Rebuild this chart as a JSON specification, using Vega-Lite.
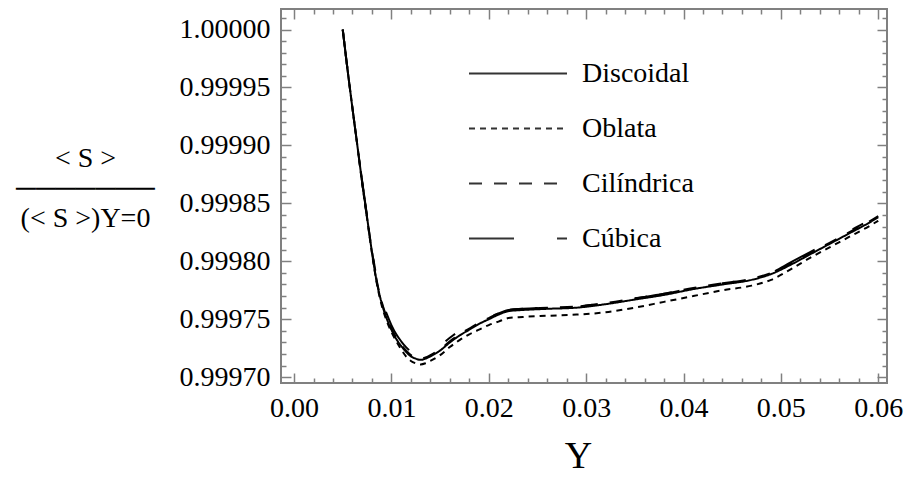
{
  "$schema": "https://vega.github.io/schema/vega-lite/v6.json",
  "width": 606,
  "height": 374,
  "autosize": "none",
  "padding": {"left": 281, "top": 9, "right": 17, "bottom": 94},
  "background": "white",
  "datasets": {
    "curves": [
      {"s":"Discoidal","x":0.0050,"y":1.000000},{"s":"Discoidal","x":0.0055,"y":0.999965},{"s":"Discoidal","x":0.0060,"y":0.999932},{"s":"Discoidal","x":0.0065,"y":0.999900},{"s":"Discoidal","x":0.0070,"y":0.999868},{"s":"Discoidal","x":0.0075,"y":0.999838},{"s":"Discoidal","x":0.0080,"y":0.999808},{"s":"Discoidal","x":0.0085,"y":0.999782},{"s":"Discoidal","x":0.0090,"y":0.999764},{"s":"Discoidal","x":0.0095,"y":0.999751},{"s":"Discoidal","x":0.0100,"y":0.999741},{"s":"Discoidal","x":0.0105,"y":0.999733},{"s":"Discoidal","x":0.0110,"y":0.999727},{"s":"Discoidal","x":0.0115,"y":0.999722},{"s":"Discoidal","x":0.0120,"y":0.999718},{"s":"Discoidal","x":0.0125,"y":0.999716},{"s":"Discoidal","x":0.0130,"y":0.999715},{"s":"Discoidal","x":0.0135,"y":0.999716},{"s":"Discoidal","x":0.0140,"y":0.999718},{"s":"Discoidal","x":0.0150,"y":0.999723},{"s":"Discoidal","x":0.0160,"y":0.999730},{"s":"Discoidal","x":0.0170,"y":0.999736},{"s":"Discoidal","x":0.0180,"y":0.999741},{"s":"Discoidal","x":0.0190,"y":0.999746},{"s":"Discoidal","x":0.0200,"y":0.999750},{"s":"Discoidal","x":0.0210,"y":0.999754},{"s":"Discoidal","x":0.0220,"y":0.999757},{"s":"Discoidal","x":0.0235,"y":0.999758},{"s":"Discoidal","x":0.0260,"y":0.999759},{"s":"Discoidal","x":0.0290,"y":0.999760},{"s":"Discoidal","x":0.0320,"y":0.999763},{"s":"Discoidal","x":0.0350,"y":0.999767},{"s":"Discoidal","x":0.0380,"y":0.999771},{"s":"Discoidal","x":0.0410,"y":0.999776},{"s":"Discoidal","x":0.0440,"y":0.999780},{"s":"Discoidal","x":0.0470,"y":0.999784},{"s":"Discoidal","x":0.0490,"y":0.999789},{"s":"Discoidal","x":0.0510,"y":0.999797},{"s":"Discoidal","x":0.0530,"y":0.999806},{"s":"Discoidal","x":0.0550,"y":0.999815},{"s":"Discoidal","x":0.0570,"y":0.999824},{"s":"Discoidal","x":0.0590,"y":0.999833},{"s":"Discoidal","x":0.0600,"y":0.999838},

      {"s":"Oblata","x":0.0050,"y":1.000000},{"s":"Oblata","x":0.0055,"y":0.999965},{"s":"Oblata","x":0.0060,"y":0.999932},{"s":"Oblata","x":0.0065,"y":0.999900},{"s":"Oblata","x":0.0070,"y":0.999867},{"s":"Oblata","x":0.0075,"y":0.999837},{"s":"Oblata","x":0.0080,"y":0.999807},{"s":"Oblata","x":0.0085,"y":0.999781},{"s":"Oblata","x":0.0090,"y":0.999762},{"s":"Oblata","x":0.0095,"y":0.999749},{"s":"Oblata","x":0.0100,"y":0.999739},{"s":"Oblata","x":0.0105,"y":0.999731},{"s":"Oblata","x":0.0110,"y":0.999724},{"s":"Oblata","x":0.0115,"y":0.999718},{"s":"Oblata","x":0.0120,"y":0.999714},{"s":"Oblata","x":0.0125,"y":0.999712},{"s":"Oblata","x":0.0130,"y":0.999711},{"s":"Oblata","x":0.0135,"y":0.999712},{"s":"Oblata","x":0.0140,"y":0.999714},{"s":"Oblata","x":0.0150,"y":0.999719},{"s":"Oblata","x":0.0160,"y":0.999726},{"s":"Oblata","x":0.0170,"y":0.999732},{"s":"Oblata","x":0.0180,"y":0.999737},{"s":"Oblata","x":0.0190,"y":0.999741},{"s":"Oblata","x":0.0200,"y":0.999745},{"s":"Oblata","x":0.0210,"y":0.999748},{"s":"Oblata","x":0.0220,"y":0.999751},{"s":"Oblata","x":0.0235,"y":0.999752},{"s":"Oblata","x":0.0260,"y":0.999753},{"s":"Oblata","x":0.0290,"y":0.999754},{"s":"Oblata","x":0.0320,"y":0.999756},{"s":"Oblata","x":0.0350,"y":0.999760},{"s":"Oblata","x":0.0380,"y":0.999765},{"s":"Oblata","x":0.0410,"y":0.999770},{"s":"Oblata","x":0.0440,"y":0.999775},{"s":"Oblata","x":0.0470,"y":0.999779},{"s":"Oblata","x":0.0490,"y":0.999784},{"s":"Oblata","x":0.0510,"y":0.999793},{"s":"Oblata","x":0.0530,"y":0.999803},{"s":"Oblata","x":0.0550,"y":0.999812},{"s":"Oblata","x":0.0570,"y":0.999821},{"s":"Oblata","x":0.0590,"y":0.999830},{"s":"Oblata","x":0.0600,"y":0.999835},

      {"s":"Cilíndrica","x":0.0050,"y":1.000000},{"s":"Cilíndrica","x":0.0055,"y":0.999965},{"s":"Cilíndrica","x":0.0060,"y":0.999932},{"s":"Cilíndrica","x":0.0065,"y":0.999900},{"s":"Cilíndrica","x":0.0070,"y":0.999868},{"s":"Cilíndrica","x":0.0075,"y":0.999838},{"s":"Cilíndrica","x":0.0080,"y":0.999809},{"s":"Cilíndrica","x":0.0085,"y":0.999783},{"s":"Cilíndrica","x":0.0090,"y":0.999765},{"s":"Cilíndrica","x":0.0095,"y":0.999752},{"s":"Cilíndrica","x":0.0100,"y":0.999742},{"s":"Cilíndrica","x":0.0105,"y":0.999734},{"s":"Cilíndrica","x":0.0110,"y":0.999728},{"s":"Cilíndrica","x":0.0115,"y":0.999723},{"s":"Cilíndrica","x":0.0120,"y":0.999719},{"s":"Cilíndrica","x":0.0125,"y":0.999717},{"s":"Cilíndrica","x":0.0130,"y":0.999716},{"s":"Cilíndrica","x":0.0135,"y":0.999717},{"s":"Cilíndrica","x":0.0140,"y":0.999719},{"s":"Cilíndrica","x":0.0150,"y":0.999724},{"s":"Cilíndrica","x":0.0160,"y":0.999731},{"s":"Cilíndrica","x":0.0170,"y":0.999737},{"s":"Cilíndrica","x":0.0180,"y":0.999742},{"s":"Cilíndrica","x":0.0190,"y":0.999747},{"s":"Cilíndrica","x":0.0200,"y":0.999751},{"s":"Cilíndrica","x":0.0210,"y":0.999755},{"s":"Cilíndrica","x":0.0220,"y":0.999758},{"s":"Cilíndrica","x":0.0235,"y":0.999759},{"s":"Cilíndrica","x":0.0260,"y":0.999760},{"s":"Cilíndrica","x":0.0290,"y":0.999761},{"s":"Cilíndrica","x":0.0320,"y":0.999764},{"s":"Cilíndrica","x":0.0350,"y":0.999768},{"s":"Cilíndrica","x":0.0380,"y":0.999772},{"s":"Cilíndrica","x":0.0410,"y":0.999777},{"s":"Cilíndrica","x":0.0440,"y":0.999781},{"s":"Cilíndrica","x":0.0470,"y":0.999785},{"s":"Cilíndrica","x":0.0490,"y":0.999790},{"s":"Cilíndrica","x":0.0510,"y":0.999798},{"s":"Cilíndrica","x":0.0530,"y":0.999807},{"s":"Cilíndrica","x":0.0550,"y":0.999816},{"s":"Cilíndrica","x":0.0570,"y":0.999825},{"s":"Cilíndrica","x":0.0590,"y":0.999834},{"s":"Cilíndrica","x":0.0600,"y":0.999839},

      {"s":"Cúbica","x":0.0050,"y":1.000000},{"s":"Cúbica","x":0.0055,"y":0.999965},{"s":"Cúbica","x":0.0060,"y":0.999932},{"s":"Cúbica","x":0.0065,"y":0.999900},{"s":"Cúbica","x":0.0070,"y":0.999869},{"s":"Cúbica","x":0.0075,"y":0.999839},{"s":"Cúbica","x":0.0080,"y":0.999810},{"s":"Cúbica","x":0.0085,"y":0.999785},{"s":"Cúbica","x":0.0090,"y":0.999767},{"s":"Cúbica","x":0.0095,"y":0.999755},{"s":"Cúbica","x":0.0100,"y":0.999745},{"s":"Cúbica","x":0.0105,"y":0.999737},{"s":"Cúbica","x":0.0110,"y":0.999731},{"s":"Cúbica","x":0.0115,"y":0.999726},{"s":"Cúbica","x":0.0120,"y":0.999722},{"s":"Cúbica","x":0.0125,"y":0.999719},{"s":"Cúbica","x":0.0130,"y":0.999718},{"s":"Cúbica","x":0.0135,"y":0.999719},{"s":"Cúbica","x":0.0140,"y":0.999721},{"s":"Cúbica","x":0.0150,"y":0.999727},{"s":"Cúbica","x":0.0160,"y":0.999734},{"s":"Cúbica","x":0.0170,"y":0.999740},{"s":"Cúbica","x":0.0180,"y":0.999744},{"s":"Cúbica","x":0.0190,"y":0.999748},{"s":"Cúbica","x":0.0200,"y":0.999752},{"s":"Cúbica","x":0.0210,"y":0.999755},{"s":"Cúbica","x":0.0220,"y":0.999758},{"s":"Cúbica","x":0.0235,"y":0.999759},{"s":"Cúbica","x":0.0260,"y":0.999760},{"s":"Cúbica","x":0.0290,"y":0.999761},{"s":"Cúbica","x":0.0320,"y":0.999764},{"s":"Cúbica","x":0.0350,"y":0.999768},{"s":"Cúbica","x":0.0380,"y":0.999772},{"s":"Cúbica","x":0.0410,"y":0.999777},{"s":"Cúbica","x":0.0440,"y":0.999781},{"s":"Cúbica","x":0.0470,"y":0.999785},{"s":"Cúbica","x":0.0490,"y":0.999790},{"s":"Cúbica","x":0.0510,"y":0.999799},{"s":"Cúbica","x":0.0530,"y":0.999808},{"s":"Cúbica","x":0.0550,"y":0.999817},{"s":"Cúbica","x":0.0570,"y":0.999826},{"s":"Cúbica","x":0.0590,"y":0.999835},{"s":"Cúbica","x":0.0600,"y":0.999840}
    ]
  },
  "data": {"name": "curves"},
  "resolve": {"axis": {"x": "independent", "y": "independent"}},
  "layer": [
    {
      "mark": {"type": "line", "strokeWidth": 2, "color": "#000", "interpolate": "monotone", "clip": true},
      "encoding": {
        "x": {
          "field": "x", "type": "quantitative",
          "scale": {"domain": [-0.00134, 0.0609], "nice": false, "zero": false},
          "axis": {
            "orient": "bottom",
            "values": [0,0.002,0.004,0.006,0.008,0.01,0.012,0.014,0.016,0.018,0.02,0.022,0.024,0.026,0.028,0.03,0.032,0.034,0.036,0.038,0.04,0.042,0.044,0.046,0.048,0.05,0.052,0.054,0.056,0.058,0.06],
            "labelExpr": "round(datum.value*1000) % 10 === 0 ? format(datum.value, '.2f') : ''",
            "labelOverlap": false,
            "labelFlush": false,
            "labelFont": "Liberation Serif",
            "labelFontSize": 28,
            "labelColor": "#000",
            "tickSize": {"condition": {"test": "round(datum.value*1000) % 10 === 0", "value": -10}, "value": -5},
            "labelPadding": 21,
            "title": "Υ",
            "titleFont": "Liberation Serif",
            "titleFontSize": 38,
            "titleFontWeight": "normal",
            "titleColor": "#000",
            "titleAlign": "center",
            "titleBaseline": "alphabetic",
            "titleX": 297,
            "titleY": 84
          }
        },
        "y": {
          "field": "y", "type": "quantitative",
          "scale": {"domain": [0.999695, 1.0000177], "nice": false, "zero": false},
          "axis": {
            "orient": "left",
            "values": [0.9997,0.99971,0.99972,0.99973,0.99974,0.99975,0.99976,0.99977,0.99978,0.99979,0.9998,0.99981,0.99982,0.99983,0.99984,0.99985,0.99986,0.99987,0.99988,0.99989,0.9999,0.99991,0.99992,0.99993,0.99994,0.99995,0.99996,0.99997,0.99998,0.99999,1.0,1.00001],
            "labelExpr": "round(datum.value*100000) % 5 === 0 ? format(datum.value, '.5f') : ''",
            "labelOverlap": false,
            "labelFlush": false,
            "labelFont": "Liberation Serif",
            "labelFontSize": 28,
            "labelColor": "#000",
            "tickSize": {"condition": {"test": "round(datum.value*100000) % 5 === 0", "value": -10}, "value": -5},
            "labelPadding": 21,
            "title": ["< S >", "───────", "(< S >)Υ=0"],
            "titleFont": "Liberation Serif",
            "titleFontSize": 28,
            "titleFontWeight": "normal",
            "titleColor": "#000",
            "titleAngle": 0,
            "titleAlign": "center",
            "titleBaseline": "middle",
            "titleLineHeight": 30,
            "titleX": -196,
            "titleY": 149
          }
        },
        "strokeDash": {
          "field": "s", "type": "nominal",
          "scale": {"domain": ["Discoidal", "Oblata", "Cilíndrica", "Cúbica"], "range": [[1, 0], [6, 5], [13, 12], [45, 43, 12, 43]]},
          "legend": {
            "title": null,
            "orient": "none",
            "legendX": 187,
            "legendY": 37,
            "symbolType": "stroke",
            "symbolSize": 9604,
            "symbolStrokeWidth": 2,
            "symbolStrokeColor": "#333",
            "clipHeight": 55,
            "rowPadding": 0,
            "labelOffset": 14,
            "labelFont": "Liberation Serif",
            "labelFontSize": 28,
            "labelColor": "#000",
            "labelLimit": 300,
            "padding": 0
          }
        }
      }
    },
    {
      "mark": {"type": "line", "opacity": 0},
      "encoding": {
        "x": {
          "field": "x", "type": "quantitative",
          "axis": {
            "orient": "top",
            "values": [0,0.002,0.004,0.006,0.008,0.01,0.012,0.014,0.016,0.018,0.02,0.022,0.024,0.026,0.028,0.03,0.032,0.034,0.036,0.038,0.04,0.042,0.044,0.046,0.048,0.05,0.052,0.054,0.056,0.058,0.06],
            "labels": false,
            "tickSize": {"condition": {"test": "round(datum.value*1000) % 10 === 0", "value": -10}, "value": -5},
            "title": null
          }
        },
        "y": {
          "field": "y", "type": "quantitative",
          "axis": {
            "orient": "right",
            "values": [0.9997,0.99971,0.99972,0.99973,0.99974,0.99975,0.99976,0.99977,0.99978,0.99979,0.9998,0.99981,0.99982,0.99983,0.99984,0.99985,0.99986,0.99987,0.99988,0.99989,0.9999,0.99991,0.99992,0.99993,0.99994,0.99995,0.99996,0.99997,0.99998,0.99999,1.0,1.00001],
            "labels": false,
            "tickSize": {"condition": {"test": "round(datum.value*100000) % 5 === 0", "value": -10}, "value": -5},
            "title": null
          }
        },
        "detail": {"field": "s"}
      }
    }
  ],
  "config": {
    "view": {"stroke": "#808080", "strokeWidth": 2},
    "axis": {
      "domain": false,
      "grid": false,
      "tickColor": "#808080",
      "tickWidth": 1.5
    },
    "legend": {"symbolType": "stroke"}
  }
}
